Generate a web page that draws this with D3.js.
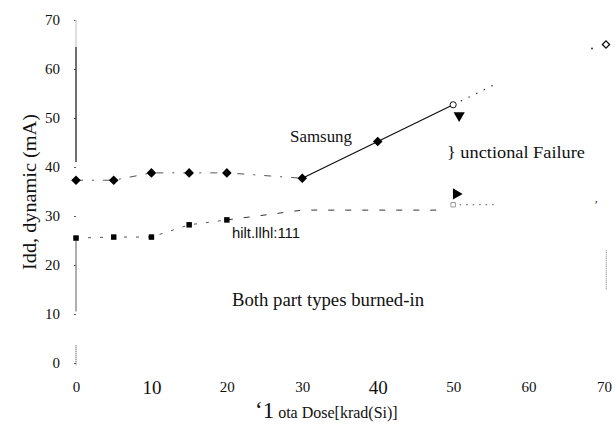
<!DOCTYPE html>
<html>
<head>
<meta charset="utf-8">
<script src="https://cdn.jsdelivr.net/npm/d3@7"></script>
<style>
  body { margin: 0; background: #fff; }
  svg text { fill: #111; }
</style>
</head>
<body>
<svg id="chart" width="616" height="440"></svg>
<script>
// ---- data ----
const doses = [0, 5, 10, 15, 20, 30, 40, 50];
const samsungIdd = [37.3, 37.3, 38.8, 38.8, 38.8, 37.7, 45.2, 52.7];
const otherDoses = [0, 5, 10, 15, 20, 30, 48];
const otherIdd = [25.5, 25.7, 25.7, 28.2, 29.2, 31.2, 31.2];
// after functional failure (dotted)
const samsungFailDoses = [50, 56];
const samsungFailIdd = [52.7, 57.2];
const otherFailDoses = [50, 56];
const otherFailIdd = [32.3, 32.3];
// last reading at 70 krad
const lastDose = [70];
const lastIdd = [65];
// arrows marking failure
const arrowDoses = [50.8, 50.4];
const arrowIdd = [50.5, 34.5];
const arrowDirs = ["down", "right"];

const xTicks = [0, 10, 20, 30, 40, 50, 60, 70];
const yTicks = [0, 10, 20, 30, 40, 50, 60, 70];

const SERIF = "Liberation Serif, DejaVu Serif, serif";
const svg = d3.select("#chart");
const x = d3.scaleLinear().domain([0, 70]).range([76, 604]);
const y = d3.scaleLinear().domain([0, 70]).range([363, 20]);

// y axis (scan has a broken, faded line)
const yAxis = svg.append("g").attr("transform", `translate(${x(0)},0)`)
    .call(d3.axisLeft(y).tickValues(yTicks).tickSize(2).tickPadding(14));
yAxis.select(".domain").remove();
yAxis.selectAll(".tick line").attr("stroke", "#555");
yAxis.selectAll(".tick text").attr("font-size", 15).attr("font-family", SERIF);
const axisPieces = [[70, 64.5, "#c8c8c8", null], [64.5, 41, "#111", null], [25, 10.5, "#777", null], [3.6, -0.5, "#555", "1,1"]];
axisPieces.forEach(p => {
    svg.append("line").attr("x1", x(0)).attr("x2", x(0))
        .attr("y1", y(p[0])).attr("y2", y(p[1]))
        .attr("stroke", p[2]).attr("stroke-width", 1.2)
        .attr("stroke-dasharray", p[3]);
});

// x axis labels only (no line in the scan)
const xAxis = svg.append("g").attr("transform", `translate(0,${y(0)})`)
    .call(d3.axisBottom(x).tickValues(xTicks).tickSize(0).tickPadding(18));
xAxis.select(".domain").remove();
xAxis.selectAll(".tick text")
    .attr("font-family", SERIF)
    .attr("font-size", d => (d === 10 || d === 40) ? 19 : 15);

const line = d3.line().x(d => x(d[0])).y(d => y(d[1]));
const pts = (xs, ys) => xs.map((v, i) => [v, ys[i]]);
const samsung = pts(doses, samsungIdd);
const other = pts(otherDoses, otherIdd);

function path(data, color, width, dash) {
    svg.append("path").datum(data).attr("d", line)
        .attr("fill", "none").attr("stroke", color)
        .attr("stroke-width", width).attr("stroke-dasharray", dash);
}

// Samsung: dash-dot before 30 krad, solid up to failure, dotted after
path(samsung.slice(0, 6), "#555", 1, "7,9,2,9");
path(samsung.slice(5), "#111", 1.3, null);
path(pts(samsungFailDoses, samsungFailIdd), "#333", 1.2, "1.5,7");
// other part
path(other.slice(0, 5), "#555", 1, "3,9");
path(other.slice(4), "#333", 1, "6,11");
path(pts(otherFailDoses, otherFailIdd), "#555", 1, "1.5,5");

// diamond = square turned 45deg
const diamond = d3.symbol().type(d3.symbolSquare).size(46);
const square = d3.symbol().type(d3.symbolSquare).size(30);

svg.append("g").selectAll("path").data(samsung.slice(0, 7)).join("path")
    .attr("transform", d => `translate(${x(d[0])},${y(d[1])}) rotate(45)`)
    .attr("d", diamond).attr("fill", "#000");
svg.append("g").selectAll("path").data(other.slice(0, 5)).join("path")
    .attr("transform", d => `translate(${x(d[0])},${y(d[1])})`)
    .attr("d", square).attr("fill", "#000");

// open markers at failure point and at 70 krad
svg.append("path").attr("transform", `translate(${x(samsungFailDoses[0])},${y(samsungFailIdd[0])})`)
    .attr("d", d3.symbol().type(d3.symbolCircle).size(30)).attr("fill", "#fff").attr("stroke", "#111");
svg.append("path").attr("transform", `translate(${x(otherFailDoses[0])},${y(otherFailIdd[0])})`)
    .attr("d", d3.symbol().type(d3.symbolSquare).size(20)).attr("fill", "#fff").attr("stroke", "#999");
svg.append("path").attr("transform", `translate(${x(lastDose[0]) + 2},${y(lastIdd[0])}) rotate(45)`)
    .attr("d", d3.symbol().type(d3.symbolSquare).size(26)).attr("fill", "#fff").attr("stroke", "#111").attr("stroke-width", 1.3);
svg.append("circle").attr("cx", x(lastDose[0]) - 12).attr("cy", y(lastIdd[0]) + 4).attr("r", 0.9).attr("fill", "#222");
svg.append("text").attr("x", x(lastDose[0]) - 9).attr("y", y(31.5)).attr("font-size", 12)
    .attr("font-family", SERIF).text("\u2032");
svg.append("line").attr("x1", x(70.3)).attr("x2", x(70.3)).attr("y1", y(23)).attr("y2", y(15))
    .attr("stroke", "#777").attr("stroke-dasharray", "1,1");

// failure arrows
const tri = d3.symbol().type(d3.symbolTriangle).size(55);
svg.append("g").selectAll("path").data(arrowDoses).join("path")
    .attr("transform", (d, i) => `translate(${x(d)},${y(arrowIdd[i])}) rotate(${arrowDirs[i] === "down" ? 180 : 90})`)
    .attr("d", tri).attr("fill", "#000");

// annotations
function note(px, py, size, len, str, family) {
    return svg.append("text").attr("x", px).attr("y", py).attr("font-size", size)
        .attr("font-family", family || SERIF)
        .attr("textLength", len).attr("lengthAdjust", "spacingAndGlyphs").text(str);
}
note(290, 142, 17, 62, "Samsung");
note(447, 158, 17, 138, "} unctional Failure");
note(232, 238, 14, 68, "hilt.llhl:111", "Liberation Sans, Arial, sans-serif");
note(232, 306, 18, 192, "Both part types burned-in");

// axis titles
svg.append("text").attr("transform", "translate(36,192) rotate(-90)")
    .attr("text-anchor", "middle").attr("font-size", 18).attr("font-family", SERIF)
    .attr("textLength", 156).attr("lengthAdjust", "spacingAndGlyphs").text("Idd, dynamic (mA)");
const xt = svg.append("text").attr("x", 255).attr("y", 418).attr("font-size", 16).attr("font-family", SERIF);
xt.append("tspan").attr("font-size", 23).text("\u20181");
xt.append("tspan").text(" ota Dose[krad(Si)]");
</script>
</body>
</html>
